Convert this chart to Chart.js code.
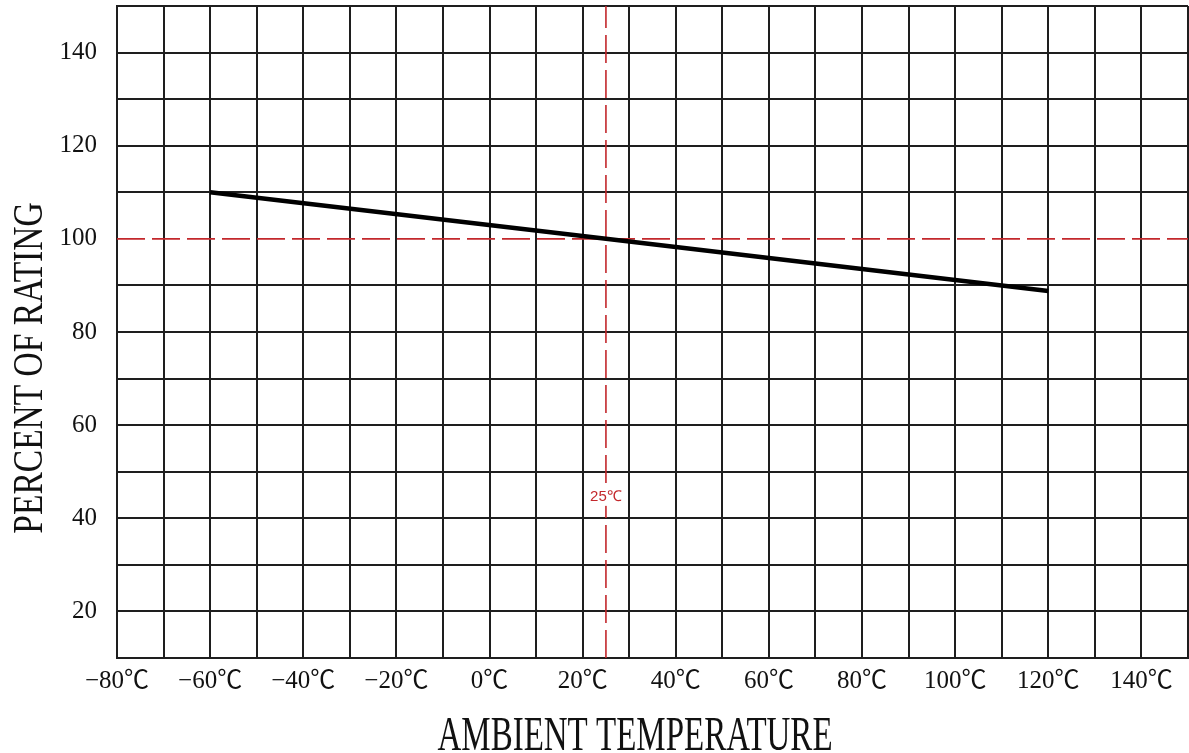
<!DOCTYPE html>
<html>
<head>
<meta charset="utf-8">
<script src="https://cdn.jsdelivr.net/npm/chart.js@4/dist/chart.umd.min.js"></script>
<style>
  html, body { margin: 0; padding: 0; background: #fff; }
  #wrap { width: 1189px; height: 753px; }
</style>
</head>
<body>
<div id="wrap"><canvas id="derating"></canvas></div>
<script>
// Dados da curva
const temps = [-60, 25, 120];
const percent = [110, 100, 88.8];

// Rótulos dos eixos
const xTicks = [-80, -60, -40, -20, 0, 20, 40, 60, 80, 100, 120, 140];
const yTicks = [20, 40, 60, 80, 100, 120, 140];

// Linhas de referência (25℃ / 100%)
const refTemp = 25;
const refPercent = 100;
const refLabel = "25℃";
const refLabelPercent = 44.6;

const RED = "#c3282c";
const GRID = "#1e1e1e";

function fmtTemp(v) {
  return (v < 0 ? "\u2212" + Math.abs(v) : v) + "℃";
}

// Títulos dos eixos (esticados na vertical como no original)
const axisTitles = {
  id: "axisTitles",
  afterDraw(chart) {
    const ctx = chart.ctx;
    ctx.save();
    ctx.fillStyle = "#111";
    ctx.font = '33px "Liberation Serif"';
    ctx.textAlign = "center";
    ctx.textBaseline = "alphabetic";
    ctx.translate(635, 750);
    ctx.scale(1, 1.48);
    ctx.fillText("AMBIENT TEMPERATURE", 0, 0);
    ctx.restore();

    ctx.save();
    ctx.fillStyle = "#111";
    ctx.font = '33.5px "Liberation Serif"';
    ctx.textAlign = "center";
    ctx.textBaseline = "alphabetic";
    ctx.translate(42, 368);
    ctx.rotate(-Math.PI / 2);
    ctx.scale(1, 1.23);
    ctx.fillText("PERCENT OF RATING", 0, 0);
    ctx.restore();
  },
};

// Rótulo "25℃" sobre a linha vertical
const refLabelPlugin = {
  id: "refLabel",
  afterDatasetsDraw(chart) {
    const ctx = chart.ctx;
    const px = chart.scales.x.getPixelForValue(refTemp);
    const py = chart.scales.y.getPixelForValue(refLabelPercent);
    ctx.save();
    ctx.font = '15px "Liberation Sans"';
    const w = ctx.measureText(refLabel).width;
    ctx.fillStyle = "#fff";
    ctx.fillRect(px - w / 2 - 1, py - 9, w + 2, 18);
    ctx.fillStyle = RED;
    ctx.textAlign = "center";
    ctx.textBaseline = "middle";
    ctx.fillText(refLabel, px, py);
    ctx.restore();
  },
};

// a linha de 100% é a tracejada vermelha, não a grade
const gridColor = (c) => (c.tick && c.tick.value === refPercent ? "rgba(0,0,0,0)" : GRID);

const ctx = document.getElementById("derating");

new Chart(ctx, {
  type: "line",
  data: {
    datasets: [
      {
        data: temps.map((t, i) => ({ x: t, y: percent[i] })),
        borderColor: "#000",
        borderWidth: 4.5,
        pointRadius: 0,
        tension: 0,
        order: 0,
      },
      {
        data: [{ x: -80, y: refPercent }, { x: 150, y: refPercent }],
        borderColor: RED,
        borderWidth: 1.6,
        borderDash: [28, 7],
        pointRadius: 0,
        order: 1,
      },
      {
        data: [{ x: refTemp, y: 10 }, { x: refTemp, y: 150 }],
        borderColor: RED,
        borderWidth: 1.6,
        borderDash: [28, 7],
        pointRadius: 0,
        order: 1,
      },
    ],
  },
  options: {
    responsive: true,
    maintainAspectRatio: false,
    animation: false,
    layout: { padding: { top: 6, right: 1, left: 0, bottom: 0 } },
    plugins: {
      legend: { display: false },
      tooltip: { enabled: false },
    },
    scales: {
      x: {
        type: "linear",
        min: -80,
        max: 150,
        afterFit(scale) {
          scale.height = 95;
          scale.paddingLeft = 0;
          scale.paddingRight = 0;
        },
        ticks: {
          stepSize: 10,
          autoSkip: false,
          maxRotation: 0,
          padding: 8,
          color: "#111",
          font: { family: '"Liberation Serif", "Noto Sans CJK SC"', size: 25 },
          callback: (v) => (xTicks.includes(v) ? fmtTemp(v) : ""),
        },
        grid: { color: GRID, lineWidth: 2, drawTicks: false },
        border: { color: GRID, width: 2 },
      },
      y: {
        min: 10,
        max: 150,
        afterFit(scale) {
          scale.width = 117;
          scale.paddingTop = 0;
          scale.paddingBottom = 0;
        },
        ticks: {
          stepSize: 10,
          autoSkip: false,
          padding: 20,
          color: "#111",
          font: { family: '"Liberation Serif"', size: 25 },
          callback: (v) => (yTicks.includes(v) ? v : ""),
        },
        grid: { color: gridColor, lineWidth: 2, drawTicks: false },
        border: { color: GRID, width: 2 },
      },
    },
  },
  plugins: [axisTitles, refLabelPlugin],
});
</script>
</body>
</html>
